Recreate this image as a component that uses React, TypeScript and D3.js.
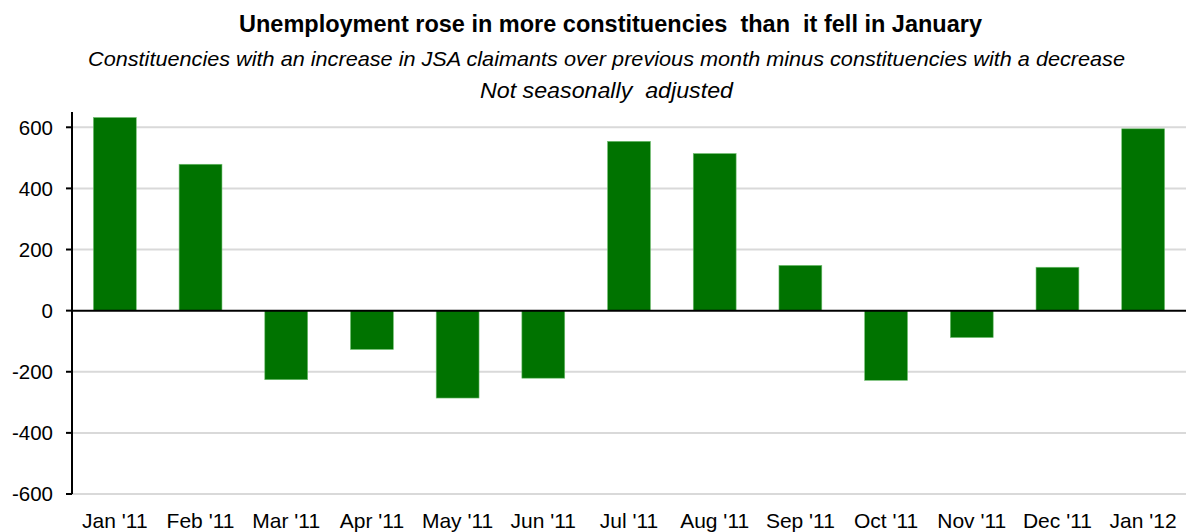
import * as d3 from "d3";
import React from "react";

const months = [
  "Jan '11", "Feb '11", "Mar '11", "Apr '11", "May '11", "Jun '11", "Jul '11",
  "Aug '11", "Sep '11", "Oct '11", "Nov '11", "Dec '11", "Jan '12",
];
const netChange = [632, 479, -226, -127, -286, -221, 554, 514, 148, -228, -88, 142, 595];
const yTicks = [-600, -400, -200, 0, 200, 400, 600];

const title = "Unemployment rose in more constituencies  than  it fell in January";
const subtitle = "Constituencies with an increase in JSA claimants over previous month minus constituencies with a decrease";
const subtitle2 = "Not seasonally  adjusted";

const width = 1186;
const height = 532;
const margin = { left: 72, right: 0, top: 112, bottom: 38 };
const font = "'Liberation Sans', Arial, sans-serif";

export default function App() {
  const x = d3.scaleBand<string>()
    .domain(months)
    .range([margin.left, width - margin.right])
    .paddingInner(0.5)
    .paddingOuter(0.25);

  const y = d3.scaleLinear()
    .domain([-600, 650])
    .range([height - margin.bottom, margin.top]);

  return (
    <svg width={width} height={height} style={{ position: "absolute", left: 0, top: 0 }} fontFamily={font} xmlSpace="preserve">
      <rect width={width} height={height} fill="#fff" />
      <text x={610.5} y={32} textAnchor="middle" fontWeight="bold" fontSize={23} style={{ whiteSpace: "pre" }}
        textLength={743} lengthAdjust="spacingAndGlyphs">{title}</text>
      <text x={606.5} y={65.5} textAnchor="middle" fontStyle="italic" fontSize={21}
        textLength={1037} lengthAdjust="spacingAndGlyphs">{subtitle}</text>
      <text x={606.5} y={97.5} textAnchor="middle" fontStyle="italic" fontSize={21.5} style={{ whiteSpace: "pre" }}
        textLength={253} lengthAdjust="spacingAndGlyphs">{subtitle2}</text>

      {/* gridlines */}
      {yTicks.filter((t) => t !== 0).map((t) => (
        <line key={t} x1={margin.left} x2={width} y1={y(t)} y2={y(t)} stroke="#d9d9d9" strokeWidth={2} />
      ))}

      {/* bars */}
      {netChange.map((v, i) => (
        <rect
          key={months[i]}
          x={x(months[i])}
          y={y(Math.max(0, v))}
          width={x.bandwidth()}
          height={Math.abs(y(v) - y(0))}
          fill="#007300"
          stroke="#6fbf6f"
          strokeWidth={0.6}
        />
      ))}

      {/* zero line */}
      <line x1={margin.left} x2={width} y1={y(0)} y2={y(0)} stroke="#000" strokeWidth={2} />

      {/* y axis */}
      <line x1={margin.left} x2={margin.left} y1={margin.top} y2={y(-600)} stroke="#000" strokeWidth={2} />
      {yTicks.map((t) => (
        <g key={t}>
          <line x1={margin.left - 6} x2={margin.left} y1={y(t)} y2={y(t)} stroke="#000" strokeWidth={2} />
          <text x={margin.left - 19} y={y(t)} dy="0.36em" textAnchor="end" fontSize={20.5}>{t}</text>
        </g>
      ))}

      {/* x labels */}
      {months.map((m) => (
        <text key={m} x={(x(m) ?? 0) + x.bandwidth() / 2} y={528} textAnchor="middle" fontSize={21}>{m}</text>
      ))}
    </svg>
  );
}
